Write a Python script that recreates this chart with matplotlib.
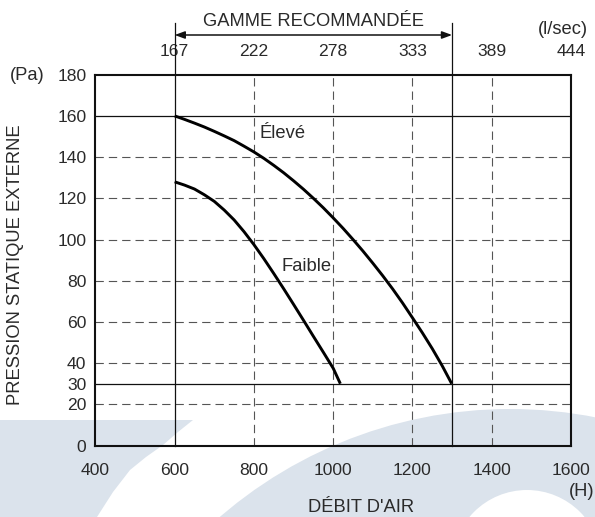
import matplotlib
matplotlib.use("Agg")
import matplotlib.pyplot as plt
from matplotlib.patches import Polygon, Ellipse
from matplotlib.ticker import FuncFormatter

plt.rcParams["font.family"] = ["Liberation Sans", "DejaVu Sans"]
plt.rcParams["lines.scale_dashes"] = False

# air flow (m3/h) vs external static pressure (Pa)
eleve_flow = [600, 625, 650, 675, 700, 725, 750, 775, 800, 825, 850, 875, 900, 925, 950,
              975, 1000, 1025, 1050, 1075, 1100, 1125, 1150, 1175, 1200, 1225, 1250, 1275, 1299]
eleve_pa = [160, 158.3, 156.5, 154.6, 152.5, 150.3, 148, 145.3, 142.5, 139.4, 136, 132.4, 128.5,
            124.4, 120, 115.4, 110.5, 105.4, 100, 94.4, 88.5, 82.4, 76, 69.2, 62, 54.7, 47, 38.7, 30]
faible_flow = [600, 625, 650, 675, 700, 725, 750, 775, 800, 825, 850, 875, 900, 925, 950,
               975, 1000, 1018]
faible_pa = [128, 126.4, 124.5, 121.7, 118.5, 114.3, 109.5, 103.8, 97.5, 90.7, 83.5, 76.1,
             68.5, 60.8, 53, 45.3, 37.5, 30]

flow_ticks = [400, 600, 800, 1000, 1200, 1400, 1600]
pa_ticks = [0, 20, 30, 40, 60, 80, 100, 120, 140, 160, 180]
dashed_pa = [20, 40, 60, 80, 100, 120, 140]
solid_pa = [160, 30]
dashed_flow = [800, 1000, 1200, 1400]
range_flow = [600, 1300]
lps_ticks = [600, 800, 1000, 1200, 1400, 1600]

ink = "#2a2a2a"
wm = "#dbe3ec"
W, H = 595, 517

fig = plt.figure(figsize=(5.95, 5.17), dpi=100)

# faint background logo
def fp(x, y):
    return (x / W, 1 - y / H)

left_shape = [fp(0, 420), fp(193, 420), fp(178, 432), fp(163, 445), fp(146, 457),
              fp(130, 470), fp(113, 492), fp(97, 517), fp(0, 517)]
fig.patches.append(Polygon(left_shape, closed=True, transform=fig.transFigure,
                           facecolor=wm, edgecolor="none", zorder=-5))
cx, cy = fp(510, 853)
fig.patches.append(Ellipse((cx, cy), 2 * 444 / W, 2 * 444 / H, transform=fig.transFigure,
                           facecolor=wm, edgecolor="none", zorder=-5))
cx, cy = fp(527, 565)
fig.patches.append(Ellipse((cx, cy), 2 * 75 / W, 2 * 75 / H, transform=fig.transFigure,
                           facecolor="white", edgecolor="none", zorder=-4))

ax = fig.add_axes([95.4 / W, 1 - 445.5 / H, (571 - 95.4) / W, (445.5 - 74.7) / H])
ax.set_facecolor("none")
ax.set_xlim(400, 1600)
ax.set_ylim(0, 180)

for p in dashed_pa:
    ax.axhline(p, color="#555555", lw=0.8, dashes=(6, 3.6), zorder=1)
for f in dashed_flow:
    ax.axvline(f, color="#555555", lw=0.8, dashes=(6, 3.6), zorder=1)
for p in solid_pa:
    ax.axhline(p, color="#111111", lw=0.9, zorder=2)
top_ext = 1 + (74.7 - 23) / (445.5 - 74.7)
for f in range_flow:
    ax.axvline(f, ymin=0, ymax=top_ext, color="#111111", lw=0.9, clip_on=False, zorder=2)

ax.plot(eleve_flow, eleve_pa, color="black", lw=2.1, zorder=4, solid_capstyle="butt")
ax.plot(faible_flow, faible_pa, color="black", lw=2.1, zorder=4, solid_capstyle="butt")

ax.text(815, 151.5, "Élevé", fontsize=13.2, color=ink, ha="left", va="center")
ax.text(870, 87.1, "Faible", fontsize=13.2, color=ink, ha="left", va="center")

for s in ax.spines.values():
    s.set_linewidth(1.5)
    s.set_color("#111111")

ax.set_xticks(flow_ticks)
ax.set_yticks(pa_ticks)
ax.tick_params(length=0, labelsize=12.6, colors=ink)
ax.tick_params(axis="x", pad=12.3)
ax.tick_params(axis="y", pad=6.5)

sec = ax.secondary_xaxis("top", functions=(lambda q: q / 3.6, lambda l: l * 3.6))
sec.set_xticks([t / 3.6 for t in lps_ticks])
sec.xaxis.set_major_formatter(FuncFormatter(lambda v, pos: f"{round(v)}"))
sec.tick_params(length=0, labelsize=12.6, colors=ink, pad=11.5)
sec.spines["top"].set_visible(False)

# recommended range arrow
y_arrow = 180 + (74.7 - 35) / 2.06
ax.annotate("", xy=(1300, y_arrow), xytext=(600, y_arrow), annotation_clip=False,
            arrowprops=dict(arrowstyle="<|-|>,head_length=0.6,head_width=0.22",
                            color="#111111", lw=1.1, shrinkA=0, shrinkB=0))
ax.text(950, 180 + (74.7 - 21) / 2.06, "GAMME RECOMMANDÉE", fontsize=13.2, color=ink,
        ha="center", va="center", clip_on=False)

fig.text(563 / W, 1 - 30 / H, "(l/sec)", fontsize=13.2, color=ink, ha="center", va="center")
fig.text(27 / W, 1 - 76 / H, "(Pa)", fontsize=13.2, color=ink, ha="center", va="center")
fig.text(582 / W, 1 - 492 / H, "(H)", fontsize=13.2, color=ink, ha="center", va="center")
fig.text(361.5 / W, 1 - 507 / H, "DÉBIT D'AIR", fontsize=13.2, color=ink, ha="center", va="center")
fig.text(16 / W, 1 - 265 / H, "PRESSION STATIQUE EXTERNE", fontsize=13.2, color=ink,
         ha="center", va="center", rotation=90)

fig.savefig("out.png", dpi=100)
